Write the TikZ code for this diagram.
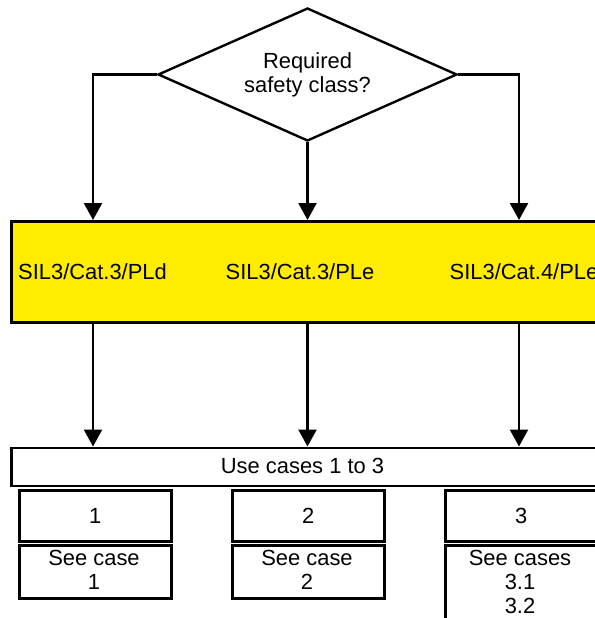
\documentclass[tikz,border=0pt]{standalone}
\usepackage{fontspec}
\setmainfont{Liberation Sans}
\usetikzlibrary{shapes.geometric,arrows.meta}
\definecolor{sy}{RGB}{255,236,0}
\begin{document}
\begin{tikzpicture}[x=1bp,y=-1bp,
  every node/.style={font=\fontsize{22}{24}\selectfont, inner sep=0pt, align=center},
  frame/.style={draw=black, line width=2.6bp, rectangle, anchor=north west},
  arr/.style={line width=2.4bp, -{Triangle[length=17bp,width=18bp]}},
  lab/.style={anchor=base}
]
\useasboundingbox (0,0) rectangle (595,618);
% decision
\node[diamond, draw=black, line width=2.4bp, shape aspect=2.25,
      minimum width=299bp, minimum height=133bp] (q) at (307.5,74.5)
      {Required\\safety class?};
% columns
\coordinate (c1) at (93,0);
\coordinate (c2) at (307.5,0);
\coordinate (c3) at (519,0);
% yellow band
\node[frame, fill=sy, minimum width=600bp, minimum height=101bp] (y) at (10,220) {};
\node[lab] (t1) at (92.5,279) {SIL3/Cat.3/PLd};
\node[lab] (t2) at (300,279) {SIL3/Cat.3/PLe};
\node[lab] (t3) at (524,279) {SIL3/Cat.4/PLe};
% use cases band
\node[frame, minimum width=587bp, minimum height=38bp] (u) at (10,446.5) {};
\node[lab] (ut) at (302.5,473) {Use cases 1 to 3};
% case boxes
\node[frame, minimum width=152bp, minimum height=51bp] (b1) at (18,489) {};
\node[frame, minimum width=152bp, minimum height=51bp] (b2) at (231,489) {};
\node[frame, minimum width=152bp, minimum height=51bp] (b3) at (444,489) {};
\node[lab] (n1) at (b1.center) [yshift=-7.5bp] {1};
\node[lab] (n2) at (b2.center) [yshift=-7.5bp] {2};
\node[lab] (n3) at (b3.center) [yshift=-7.5bp] {3};
\node[frame, minimum width=152bp, minimum height=53bp] (s1) at (18,544) {};
\node[frame, minimum width=152bp, minimum height=53bp] (s2) at (231,544) {};
\node[frame, minimum width=152bp, minimum height=90bp] (s3) at (444,544) {};
\node[anchor=north] (st1) at (94,550) {See case\\1};
\node[anchor=north] (st2) at (307,550) {See case\\2};
\node[anchor=north, align=center] (st3) at (520,550) {See cases\\3.1\\3.2};
% connectors
\draw[arr] (q.west) -| (c1 |- y.north);
\draw[arr] (q.south) -- (q.south |- y.north);
\draw[arr] (q.east) -| (c3 |- y.north);
\draw[arr] (c1 |- y.south) -- (c1 |- u.north);
\draw[arr] (c2 |- y.south) -- (c2 |- u.north);
\draw[arr] (c3 |- y.south) -- (c3 |- u.north);
\end{tikzpicture}
\end{document}
